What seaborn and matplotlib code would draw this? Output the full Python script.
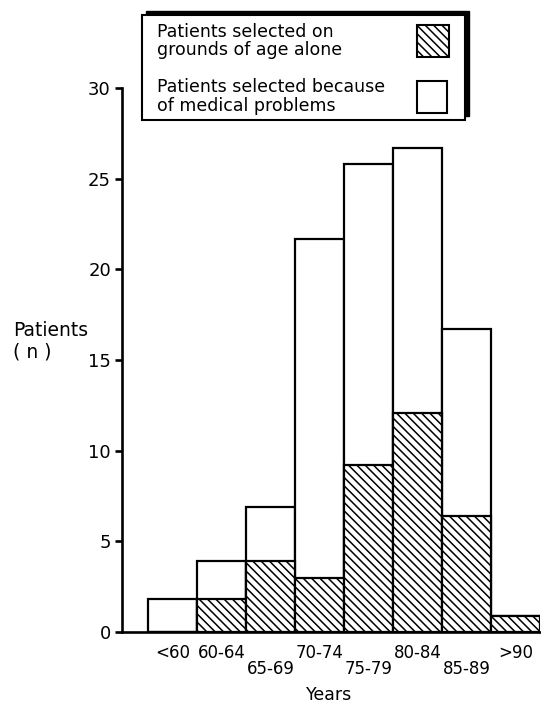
import matplotlib
matplotlib.use("Agg")
import matplotlib.pyplot as plt
import seaborn as sns
import pandas as pd
from matplotlib.patches import Rectangle

# values (number of patients per age band)
categories = ["<60", "60-64", "65-69", "70-74", "75-79", "80-84", "85-89", ">90"]
all_patients = [1.8, 3.9, 6.9, 21.7, 25.8, 26.7, 16.7, 0.9]
age_alone = [0.0, 1.8, 3.9, 3.0, 9.2, 12.1, 6.4, 0.9]
lower_row = ["65-69", "75-79", "85-89"]

legend_labels = ["Patients selected on\ngrounds of age alone",
                 "Patients selected because\nof medical problems"]

HATCH = "\\\\\\\\"

sns.set_style("ticks")
plt.rcParams["font.family"] = ["DejaVu Sans"]
plt.rcParams["hatch.linewidth"] = 1.1
plt.rcParams["text.color"] = "black"
plt.rcParams["axes.labelcolor"] = "black"

df = pd.DataFrame({"age": categories, "total": all_patients, "alone": age_alone})

W, H = 541, 704
fig = plt.figure(figsize=(W / 100, H / 100), dpi=100)
ax = fig.add_axes([122 / W, 1 - 632 / H, 418 / W, 544 / H])

sns.barplot(data=df, x="age", y="total", color="white", edgecolor="black",
            linewidth=1.6, width=1.0, saturation=1, errorbar=None, ax=ax)
sns.barplot(data=df, x="age", y="alone", color="white", edgecolor="black",
            linewidth=1.6, width=1.0, saturation=1, errorbar=None,
            hatch=HATCH, ax=ax)

ax.set_xlim(-1.03, 7.5)
ax.set_ylim(0, 30)
ax.set_yticks(range(0, 31, 5))
sns.despine(ax=ax)
for s in ["left", "bottom"]:
    ax.spines[s].set_linewidth(1.9)
    ax.spines[s].set_color("black")
ax.tick_params(axis="y", length=5, width=1.9, labelsize=13, pad=3, colors="black")
ax.tick_params(axis="x", length=0, labelsize=12, colors="black")

ax.set_xticks(range(len(categories)))
ax.set_xticklabels(categories)
for tick, lab in zip(ax.xaxis.get_major_ticks(), categories):
    tick.set_pad(20 if lab in lower_row else 9)

ax.set_ylabel("")
ax.set_xlabel("Years", fontsize=12.5)
ax.xaxis.set_label_coords(0.495, -0.116)
ax.xaxis.label.set_va("center")

# overlay in pixel coordinates for the boxed key and the y label
ov = fig.add_axes([0, 0, 1, 1])
ov.set_xlim(0, W)
ov.set_ylim(H, 0)
ov.axis("off")

ov.text(13, 341, "Patients\n( n )", fontsize=13.5, ha="left", va="center",
        linespacing=1.15)

ov.add_patch(Rectangle((146, 11), 323, 105, facecolor="black", edgecolor="black"))
ov.add_patch(Rectangle((142, 15), 323, 105, facecolor="white", edgecolor="black",
                       linewidth=1.5))
ov.text(157, 41, legend_labels[0], fontsize=12.5, ha="left", va="center",
        linespacing=1.05)
ov.text(157, 96.5, legend_labels[1], fontsize=12.5, ha="left", va="center",
        linespacing=1.05)
ov.add_patch(Rectangle((417, 25), 32, 32, facecolor="white", edgecolor="black",
                       linewidth=1.5, hatch=HATCH))
ov.add_patch(Rectangle((417, 81), 30, 32, facecolor="white", edgecolor="black",
                       linewidth=1.5))

fig.savefig("out.png", dpi=100)
